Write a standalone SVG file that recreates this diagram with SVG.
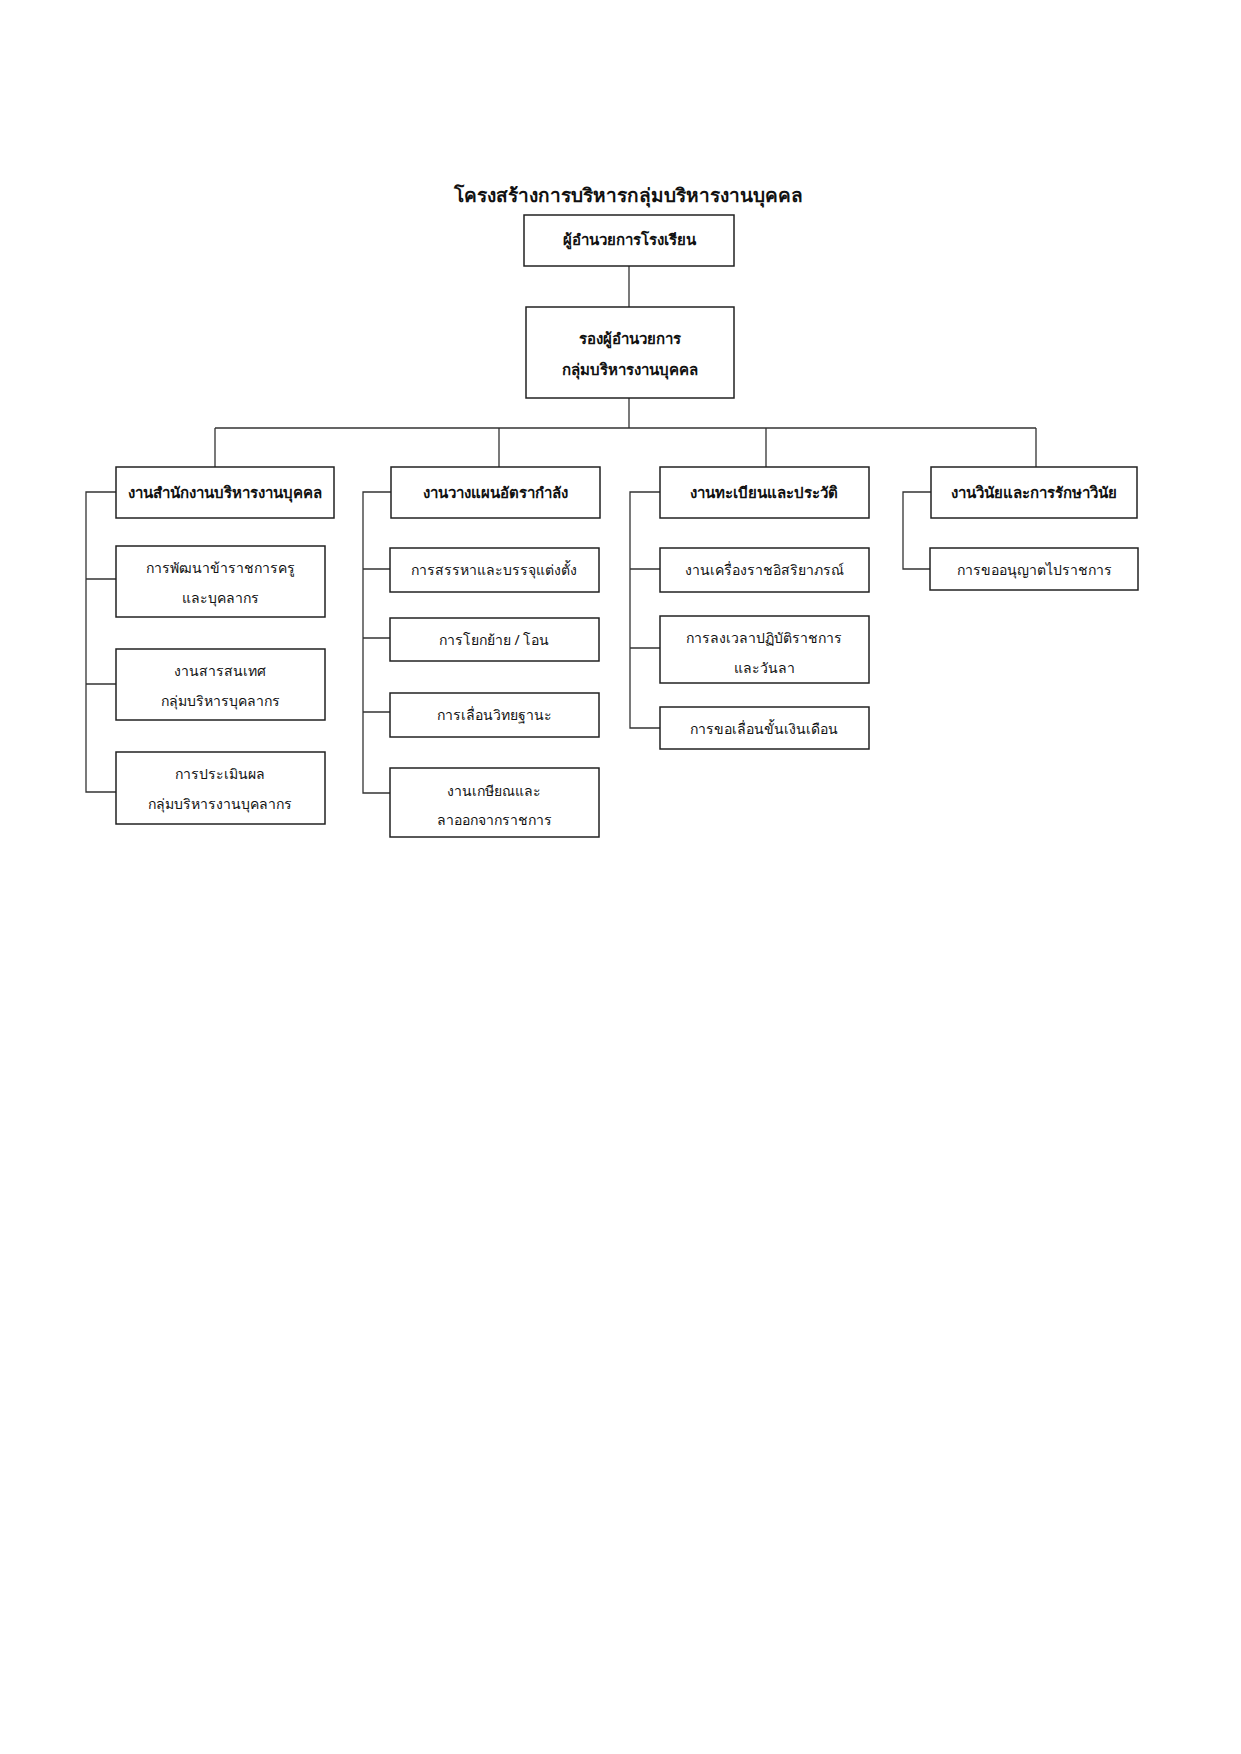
<svg xmlns="http://www.w3.org/2000/svg" width="1241" height="1754" viewBox="0 0 1241 1754">
<style>
rect{fill:#fff;stroke:#222;stroke-width:1.5}
text{font-family:"Noto Sans","DejaVu Sans",sans-serif;fill:#111;text-anchor:middle;dominant-baseline:central}
.b{font-weight:bold;font-size:15px}
.r{font-size:14px}
.t{font-weight:bold;font-size:19px}
#connectors path{fill:none;stroke:#333;stroke-width:1.3}
</style>
<rect x="0" y="0" width="1241" height="1754" style="stroke:none"/>
<text class="t" x="628" y="195">โครงสร้างการบริหารกลุ่มบริหารงานบุคคล</text>
<g id="connectors">
<path d="M629 266V307M629 398V428M215 428H1036M215 428V467M499 428V467M766 428V467M1036 428V467"/>
<path d="M116 492H86V792H116M86 579H116M86 684H116"/>
<path d="M391 492H363V793H390M363 569H390M363 638H390M363 712H390"/>
<path d="M660 492H630V728H660M630 569H660M630 648H660"/>
<path d="M931 492H903V569H930"/>
</g>
<g id="n0"><rect x="524" y="215" width="210" height="51"/><text class="b" x="629" y="239">ผู้อำนวยการโรงเรียน</text></g>
<g id="n1"><rect x="526" y="307" width="208" height="91"/><text class="b" x="630" y="338">รองผู้อำนวยการ</text><text class="b" x="630" y="369">กลุ่มบริหารงานบุคคล</text></g>
<g id="a"><rect x="116" y="467" width="218" height="51"/><text class="b" x="225" y="492">งานสำนักงานบริหารงานบุคคล</text></g>
<g id="b"><rect x="391" y="467" width="209" height="51"/><text class="b" x="495" y="492">งานวางแผนอัตรากำลัง</text></g>
<g id="c"><rect x="660" y="467" width="209" height="51"/><text class="b" x="764" y="492">งานทะเบียนและประวัติ</text></g>
<g id="d"><rect x="931" y="467" width="206" height="51"/><text class="b" x="1034" y="492">งานวินัยและการรักษาวินัย</text></g>
<g id="a1"><rect x="116" y="546" width="209" height="71"/><text class="r" x="220" y="567">การพัฒนาข้าราชการครู</text><text class="r" x="220" y="597">และบุคลากร</text></g>
<g id="a2"><rect x="116" y="649" width="209" height="71"/><text class="r" x="220" y="670">งานสารสนเทศ</text><text class="r" x="220" y="700">กลุ่มบริหารบุคลากร</text></g>
<g id="a3"><rect x="116" y="752" width="209" height="72"/><text class="r" x="220" y="773">การประเมินผล</text><text class="r" x="220" y="803">กลุ่มบริหารงานบุคลากร</text></g>
<g id="b1"><rect x="390" y="548" width="209" height="44"/><text class="r" x="494" y="569">การสรรหาและบรรจุแต่งตั้ง</text></g>
<g id="b2"><rect x="390" y="618" width="209" height="43"/><text class="r" x="494" y="639">การโยกย้าย / โอน</text></g>
<g id="b3"><rect x="390" y="693" width="209" height="44"/><text class="r" x="494" y="714">การเลื่อนวิทยฐานะ</text></g>
<g id="b4"><rect x="390" y="768" width="209" height="69"/><text class="r" x="494" y="790">งานเกษียณและ</text><text class="r" x="494" y="819">ลาออกจากราชการ</text></g>
<g id="c1"><rect x="660" y="548" width="209" height="44"/><text class="r" x="764" y="569">งานเครื่องราชอิสริยาภรณ์</text></g>
<g id="c2"><rect x="660" y="616" width="209" height="67"/><text class="r" x="764" y="637">การลงเวลาปฏิบัติราชการ</text><text class="r" x="764" y="667">และวันลา</text></g>
<g id="c3"><rect x="660" y="707" width="209" height="42"/><text class="r" x="764" y="728">การขอเลื่อนขั้นเงินเดือน</text></g>
<g id="d1"><rect x="930" y="548" width="208" height="42"/><text class="r" x="1034" y="569">การขออนุญาตไปราชการ</text></g>
</svg>
